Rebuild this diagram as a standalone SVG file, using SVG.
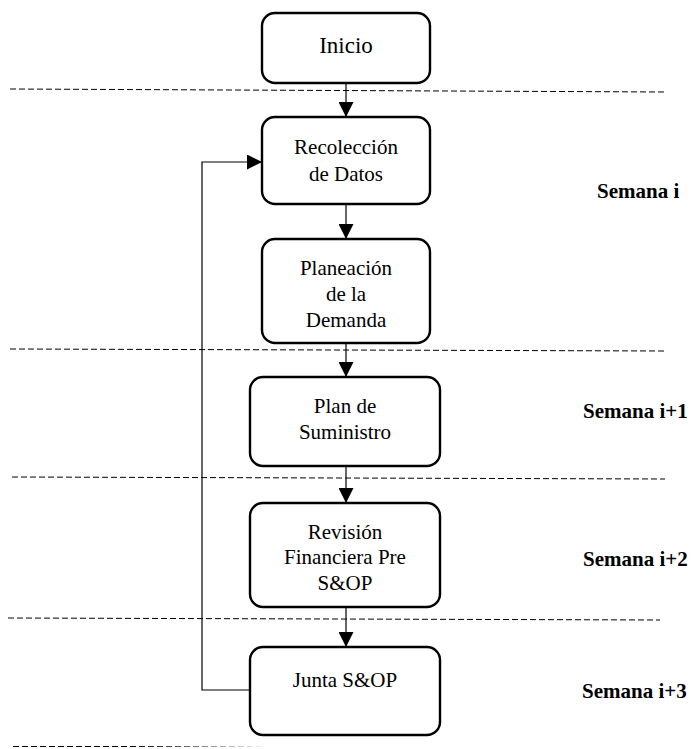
<svg xmlns="http://www.w3.org/2000/svg" width="691" height="749" viewBox="0 0 691 749">
<style>
.box{fill:#fff;stroke:#000;stroke-width:2.4}
.t{font-family:"Liberation Serif","Times New Roman",serif;font-size:21px;text-anchor:middle;fill:#000}
.lbl{font-family:"Liberation Serif","Times New Roman",serif;font-size:21px;font-weight:bold;fill:#000}
.dash{stroke:#000;stroke-width:1;stroke-dasharray:6 3;fill:none}
.c{stroke:#000;stroke-width:1.2;fill:none}
</style>
<defs>
<marker id="ah" viewBox="0 0 15 15" refX="15" refY="7.5" markerWidth="15" markerHeight="15" markerUnits="userSpaceOnUse" orient="auto">
<path d="M0,0 L15,7.5 L0,15 Z" fill="#000"/>
</marker>
<linearGradient id="fade" x1="13" y1="0" x2="270" y2="0" gradientUnits="userSpaceOnUse">
<stop offset="0" stop-color="#000"/>
<stop offset="0.45" stop-color="#000"/>
<stop offset="1" stop-color="#fff"/>
</linearGradient>
</defs>
<g id="separators">
<line class="dash" x1="10" y1="89" x2="665" y2="92"/>
<line class="dash" x1="10" y1="349" x2="665" y2="351"/>
<line class="dash" x1="12" y1="477" x2="665" y2="479"/>
<line class="dash" x1="8" y1="618" x2="660" y2="620"/>
<line x1="13" y1="746.5" x2="270" y2="746.5" stroke="url(#fade)" stroke-width="1" stroke-dasharray="6 3"/>
</g>
<g id="connectors">
<line class="c" x1="346" y1="83" x2="346" y2="117" marker-end="url(#ah)"/>
<line class="c" x1="346" y1="204" x2="346" y2="239" marker-end="url(#ah)"/>
<line class="c" x1="346" y1="343" x2="346" y2="377" marker-end="url(#ah)"/>
<line class="c" x1="346" y1="466" x2="346" y2="503" marker-end="url(#ah)"/>
<line class="c" x1="346" y1="607" x2="346" y2="647" marker-end="url(#ah)"/>
<path class="c" d="M250,690 H202 V162 H262" marker-end="url(#ah)"/>
</g>
<g id="inicio">
<rect class="box" x="262" y="13" width="168" height="70" rx="13"/>
<text class="t" x="346" y="53" style="font-size:23px">Inicio</text>
</g>
<g id="recoleccion">
<rect class="box" x="262" y="117" width="168" height="87" rx="13"/>
<text class="t" x="346" y="154">Recolección</text>
<text class="t" x="346" y="181">de Datos</text>
</g>
<g id="planeacion">
<rect class="box" x="262" y="239" width="168" height="104" rx="13"/>
<text class="t" x="346" y="275">Planeación</text>
<text class="t" x="346" y="301">de la</text>
<text class="t" x="346" y="327">Demanda</text>
</g>
<g id="suministro">
<rect class="box" x="250" y="377" width="190" height="89" rx="13"/>
<text class="t" x="345" y="413">Plan de</text>
<text class="t" x="345" y="439">Suministro</text>
</g>
<g id="revision">
<rect class="box" x="250" y="503" width="190" height="104" rx="13"/>
<text class="t" x="345" y="539">Revisión</text>
<text class="t" x="345" y="564">Financiera Pre</text>
<text class="t" x="345" y="590">S&amp;OP</text>
</g>
<g id="junta">
<rect class="box" x="250" y="647" width="190" height="88" rx="13"/>
<text class="t" x="345" y="687">Junta S&amp;OP</text>
</g>
<g id="labels">
<text class="lbl" x="597" y="198">Semana i</text>
<text class="lbl" x="583" y="418">Semana i+1</text>
<text class="lbl" x="583" y="566">Semana i+2</text>
<text class="lbl" x="582" y="698">Semana i+3</text>
</g>
</svg>
